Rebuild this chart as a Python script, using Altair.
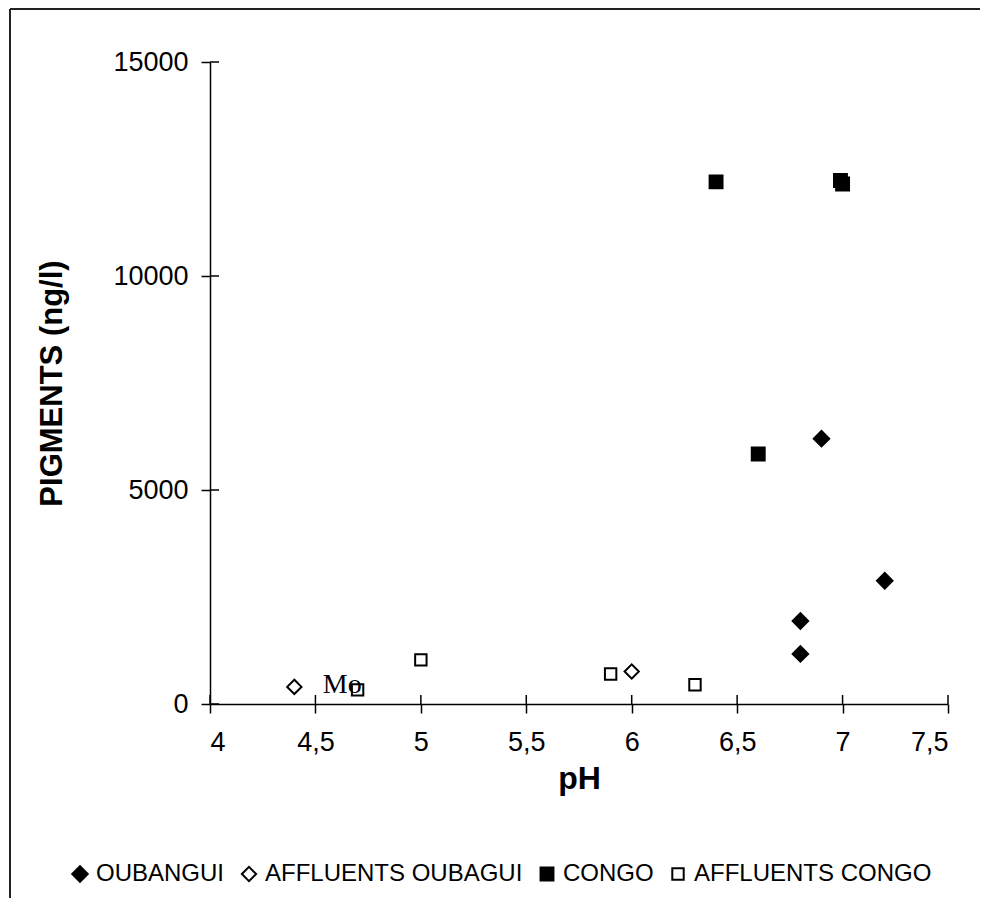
import altair as alt
import pandas as pd

# ---- data ----
series_names = ["OUBANGUI", "AFFLUENTS OUBAGUI", "CONGO", "AFFLUENTS CONGO"]

oubangui_ph = [6.8, 6.8, 6.9, 7.2]
oubangui_pig = [1170, 1940, 6200, 2880]

aff_oubangui_ph = [4.4, 6.0]
aff_oubangui_pig = [400, 760]

congo_ph = [6.4, 6.99, 7.0, 6.6]
congo_pig = [12200, 12230, 12150, 5840]

aff_congo_ph = [4.7, 5.0, 5.9, 6.3]
aff_congo_pig = [330, 1030, 700, 450]

label_text = ["Mo"]
label_ph = [4.535]
label_pig = [440]

x_ticks = [4, 4.5, 5, 5.5, 6, 6.5, 7, 7.5]
y_ticks = [0, 5000, 10000, 15000]

rows = []
for name, xs, ys in [
    (series_names[0], oubangui_ph, oubangui_pig),
    (series_names[1], aff_oubangui_ph, aff_oubangui_pig),
    (series_names[2], congo_ph, congo_pig),
    (series_names[3], aff_congo_ph, aff_congo_pig),
]:
    for a, b in zip(xs, ys):
        rows.append({"ph": a, "pig": b, "serie": name})
df = pd.DataFrame(rows)
lab = pd.DataFrame({"t": label_text, "ph": label_ph, "pig": label_pig})
xt = pd.DataFrame({"ph": x_ticks})
yt = pd.DataFrame({"pig": y_ticks})

FONT = "Liberation Sans"
W, H = 738, 642

xscale = alt.Scale(domain=[4, 7.5], nice=False, zero=False)
yscale = alt.Scale(domain=[0, 15000], nice=False)

xaxis = alt.Axis(
    values=x_ticks, format="~g", title="pH", titleFont=FONT, titleFontSize=32,
    titleFontWeight="bold", titleColor="black", titlePadding=8,
    labelFont=FONT, labelFontSize=27, labelColor="black",
    labelPadding=16, tickSize=9, tickColor="black", tickWidth=1.5,
    domainColor="black", domainWidth=1.5, grid=False,
    labelExpr="replace(datum.label, '.', ',')",
)
yaxis = alt.Axis(
    values=y_ticks, format="d", title="PIGMENTS (ng/l)", titleFont=FONT,
    titleFontSize=31, titleFontWeight="bold", titleColor="black",
    titlePadding=44, labelFont=FONT, labelFontSize=27, labelColor="black",
    labelPadding=13, tickSize=9, tickColor="black", tickWidth=1.5,
    domainColor="black", domainWidth=1.5, grid=False,
)
X = alt.X("ph:Q", scale=xscale, axis=xaxis)
Y = alt.Y("pig:Q", scale=yscale, axis=yaxis)

legend = alt.Legend(
    title=None, orient="none", direction="horizontal",
    legendX=-142, legendY=800, labelLimit=0,
    labelFont=FONT, labelFontSize=24, labelColor="black",
    labelOffset=4, columnPadding=12, symbolStrokeColor="black",
    symbolStrokeWidth=2,
)

points = alt.Chart(df).mark_point(
    strokeWidth=2, opacity=1, fillOpacity=1
).encode(
    x=X, y=Y,
    shape=alt.Shape("serie:N", scale=alt.Scale(
        domain=series_names, range=["diamond", "diamond", "square", "square"]),
        legend=legend),
    fill=alt.Fill("serie:N", scale=alt.Scale(
        domain=series_names, range=["black", "white", "black", "white"]),
        legend=legend),
    stroke=alt.Stroke("serie:N", scale=alt.Scale(
        domain=series_names, range=["black", "black", "black", "black"]),
        legend=legend),
    size=alt.Size("serie:N", scale=alt.Scale(
        domain=series_names, range=[240, 130, 215, 170]),
        legend=legend),
)

# inner half of the crossing tick marks, placed at the tick values
xticks_in = alt.Chart(xt).mark_rule(color="black", strokeWidth=1.5).encode(
    x=X, y=alt.value(H - 9), y2=alt.value(H),
)
yticks_in = alt.Chart(yt).mark_rule(color="black", strokeWidth=1.5).encode(
    y=Y, x=alt.value(0), x2=alt.value(9),
)

text = alt.Chart(lab).mark_text(
    align="left", baseline="middle", font="Liberation Serif", fontSize=28,
    color="black"
).encode(x=X, y=Y, text="t:N")

frame_data = pd.DataFrame({"k": [0]})
frame_left = alt.Chart(frame_data).mark_rule(color="#222", strokeWidth=2).encode(
    x=alt.value(-200), y=alt.value(-53), y2=alt.value(836))
frame_top = alt.Chart(frame_data).mark_rule(color="#222", strokeWidth=2).encode(
    x=alt.value(-200), x2=alt.value(770), y=alt.value(-53))

chart = alt.layer(points, xticks_in, yticks_in, text, frame_left, frame_top).properties(
    width=W, height=H, padding={"left": 1, "top": 0, "right": 0, "bottom": 0}
).configure(background="white").configure_view(stroke="transparent")

chart.save("out.html", embed_options={"renderer": "svg", "actions": False})
